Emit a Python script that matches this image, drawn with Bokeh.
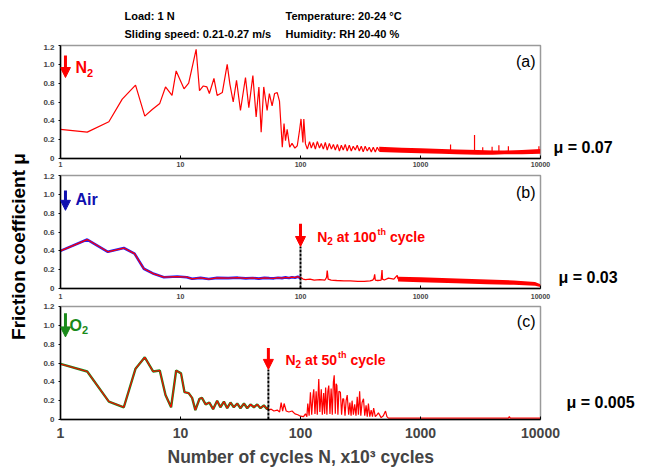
from math import pi
from bokeh.plotting import figure
from bokeh.layouts import column, row
from bokeh.models import (Range1d, FixedTicker, PrintfTickFormatter, CustomJSTickFormatter,
                          Label, Arrow, NormalHead, Title)
from bokeh.embed import file_html
from bokeh.resources import INLINE

FONT = "Liberation Sans"
RED = "#ff0000"
BLUE = "#2020ff"
NAVY = "#1010b0"
GREEN = "#1a8a1a"
FRAME = "#9a9a9a"

# ---------------- data ----------------
x_ticks = [1, 10, 100, 1000, 10000]
y_ticks = [0, 0.2, 0.4, 0.6, 0.8, 1.0, 1.2]

# (a) N2 atmosphere
a_x_early = [1, 1.67, 2.53, 3.27, 4.22, 5.04, 5.81, 6.72, 7.5, 8.5, 9.2, 10.7, 11.7, 13.5, 14.4,
             15.5, 16.6, 17.4, 19, 20.2, 22.3, 24.5, 25.8, 27.5, 29.3, 31.6, 34.8, 37.1, 40.1,
             42.7, 45, 47, 49.4, 52.7, 55, 58, 60.8, 64, 66.8, 70.5, 72.9, 75, 77.4, 81.3, 85,
             89.8, 94, 98.2, 101, 104.7, 106.6, 110]
a_y_early = [0.31, 0.28, 0.39, 0.63, 0.78, 0.45, 0.52, 0.585, 0.76, 0.67, 0.93, 0.74, 0.80, 1.16,
             0.72, 0.77, 0.76, 0.69, 0.85, 0.67, 0.70, 1.0, 0.79, 0.60, 0.83, 0.51, 0.86, 0.54,
             0.88, 0.44, 0.76, 0.28, 0.76, 0.51, 0.69, 0.56, 0.69, 0.70, 0.61, 0.12, 0.37, 0.19,
             0.31, 0.12, 0.16, 0.11, 0.135, 0.30, 0.42, 0.17, 0.42, 0.155]
a_x_zig = [114, 119, 123, 128, 133, 138, 144, 149, 155, 161, 167, 174, 181, 188, 195, 203, 211,
           219, 227, 236, 245, 255, 265, 275, 286, 297, 309, 321, 333, 346, 360, 374, 389, 404,
           420, 436, 453]
a_y_zig = [0.10, 0.18, 0.11, 0.17, 0.10, 0.18, 0.11, 0.16, 0.10, 0.17, 0.09, 0.16, 0.10, 0.15,
           0.09, 0.15, 0.08, 0.14, 0.09, 0.15, 0.08, 0.14, 0.08, 0.13, 0.09, 0.14, 0.08, 0.13,
           0.07, 0.13, 0.08, 0.12, 0.07, 0.12, 0.07, 0.12, 0.08]
a_band_x = [453, 700, 1000, 1500, 2000, 3000, 4000, 5000, 7000, 10000]
a_band_lo = [0.07, 0.06, 0.055, 0.05, 0.045, 0.04, 0.04, 0.045, 0.045, 0.05]
a_band_hi = [0.125, 0.115, 0.11, 0.10, 0.095, 0.09, 0.085, 0.085, 0.09, 0.10]
a_spike_x = [1780, 2820, 3300, 3950, 4500, 5400, 9700]
a_spike_base = [0.08, 0.08, 0.08, 0.08, 0.08, 0.08, 0.08]
a_spike_top = [0.15, 0.25, 0.12, 0.125, 0.14, 0.13, 0.13]

# (b) air, then N2 from the 100th cycle
b_air_x = [1, 1.67, 2.48, 3.37, 4.14, 4.95, 5.99, 7.27, 9.4, 11.3, 12.5, 14.7, 17.2, 20.2, 25,
           30, 35, 40, 45, 50, 55, 60, 65, 70, 75, 80, 85, 90, 95, 100]
b_air_y = [0.40, 0.52, 0.39, 0.43, 0.37, 0.21, 0.156, 0.12, 0.127, 0.12, 0.103, 0.113, 0.10,
           0.113, 0.11, 0.115, 0.108, 0.112, 0.105, 0.113, 0.11, 0.108, 0.115, 0.11, 0.118,
           0.112, 0.12, 0.115, 0.125, 0.11]
b_n2_x = [100, 105, 110, 120, 130, 145, 160, 165, 167, 170, 180, 200, 230, 260, 300, 340, 380,
          400, 410, 415, 420, 440, 470, 478, 482, 500, 540, 600, 640, 650]
b_n2_y = [0.12, 0.10, 0.095, 0.10, 0.09, 0.095, 0.09, 0.12, 0.19, 0.10, 0.09, 0.085, 0.08, 0.08,
          0.075, 0.075, 0.08, 0.09, 0.11, 0.15, 0.09, 0.085, 0.09, 0.195, 0.10, 0.09, 0.11,
          0.10, 0.14, 0.10]
b_band_x = [650, 1000, 2000, 3600, 6000, 9000, 10000]
b_band_lo = [0.075, 0.067, 0.055, 0.045, 0.04, 0.03, 0.015]
b_band_hi = [0.125, 0.12, 0.105, 0.095, 0.085, 0.07, 0.045]
b_switch_x = [100]
b_switch_y0 = [0]
b_switch_y1 = [0.446]

# (c) O2, then N2 from the 50th cycle
c_o2_x = [1, 1.67, 2.53, 3.37, 4.22, 5.04, 5.91, 6.72, 7.5, 8.35, 9.2, 10.1, 10.8, 11.7, 12.5,
          13.3, 14.4, 15.1, 16.2, 17.4, 18.7, 20.2, 21.5, 23, 24.5, 26.1, 27.8, 29.7, 31.6, 33.8,
          36, 38.3, 40.9, 43.6, 46.4, 49.5, 52.7, 54]
c_o2_y = [0.59, 0.51, 0.19, 0.13, 0.54, 0.66, 0.51, 0.52, 0.26, 0.13, 0.52, 0.49, 0.29, 0.28,
          0.23, 0.10, 0.22, 0.23, 0.16, 0.18, 0.11, 0.20, 0.13, 0.19, 0.12, 0.18, 0.13, 0.17,
          0.12, 0.17, 0.12, 0.16, 0.13, 0.16, 0.12, 0.15, 0.11, 0.13]
c_n2_x = [54, 57, 60, 64, 67, 69, 71, 73, 76, 80,
          85, 90, 95, 100, 106, 110, 113, 115, 118, 121,
          124, 127, 129, 132, 135, 138, 142, 145, 149, 152,
          156, 159, 162, 166, 169, 172, 176, 180, 184, 188,
          191, 195, 198, 201, 205, 209, 215, 220, 225, 229,
          235, 240, 245, 252, 258, 264, 269, 276, 283, 290,
          297, 304, 311, 318, 326, 335, 343, 352, 360, 368,
          378, 388, 398, 407, 420, 433, 446, 470, 490, 511,
          525, 540, 700, 1000, 3000, 5400, 5500, 5600, 10000]
c_n2_y = [0.10, 0.11, 0.09, 0.10, 0.08, 0.18, 0.09, 0.17, 0.09, 0.08,
          0.09, 0.06, 0.05, 0.035, 0.03, 0.06, 0.03, 0.17, 0.04, 0.29,
          0.05, 0.25, 0.32, 0.06, 0.30, 0.05, 0.43, 0.08, 0.32, 0.05,
          0.28, 0.06, 0.34, 0.05, 0.30, 0.36, 0.06, 0.33, 0.05, 0.40,
          0.47, 0.06, 0.38, 0.36, 0.05, 0.30, 0.29, 0.05, 0.22, 0.22,
          0.04, 0.20, 0.26, 0.05, 0.18, 0.04, 0.20, 0.05, 0.16, 0.04,
          0.24, 0.05, 0.30, 0.04, 0.18, 0.22, 0.04, 0.15, 0.03, 0.17,
          0.03, 0.10, 0.03, 0.12, 0.03, 0.05, 0.07, 0.02, 0.04, 0.09,
          0.03, 0.015, 0.015, 0.015, 0.015, 0.015, 0.03, 0.015, 0.015]
c_switch_x = [54]
c_switch_y0 = [0]
c_switch_y1 = [0.532]

titles_left = ["Load: 1 N", "Sliding speed: 0.21-0.27 m/s"]
titles_right = ["Temperature: 20-24 °C", "Humidity: RH 20-40 %"]
mu_texts = ["μ = 0.07", "μ = 0.03", "μ = 0.005"]


# ---------------- helpers ----------------
def make_panel(width, height, top, bottom, right, xlab_size, xlab_standoff):
    p = figure(width=width, height=height, x_axis_type="log",
               x_range=Range1d(x_ticks[0], x_ticks[-1]),
               y_range=Range1d(y_ticks[0], y_ticks[-1]),
               toolbar_location=None, output_backend="svg",
               min_border_left=26, min_border_right=right,
               min_border_top=top, min_border_bottom=bottom)
    p.grid.visible = False
    p.outline_line_color = FRAME
    p.outline_line_width = 1.5
    xa = p.xaxis[0]
    xa.ticker = FixedTicker(ticks=x_ticks)
    xa.formatter = PrintfTickFormatter(format="%d")
    xa.major_label_text_font = FONT
    xa.major_label_text_font_style = "bold"
    xa.major_label_text_font_size = xlab_size
    xa.major_label_standoff = xlab_standoff
    xa.major_tick_in = 3
    xa.major_tick_out = 0
    xa.minor_tick_line_color = None
    xa.axis_line_color = "black"
    xa.axis_line_width = 1.5
    ya = p.yaxis[0]
    ya.ticker = FixedTicker(ticks=y_ticks)
    ya.formatter = CustomJSTickFormatter(code="return tick == 0 ? '0' : tick.toFixed(1);")
    ya.major_label_text_font = FONT
    ya.major_label_text_font_style = "bold"
    ya.major_label_text_font_size = "8px"
    ya.major_label_standoff = 4
    ya.major_tick_in = 0
    ya.major_tick_out = 2
    ya.minor_tick_line_color = None
    ya.axis_line_color = "black"
    ya.axis_line_width = 1.5
    return p


def text_fig(w, h, y_end=None):
    f = figure(width=w, height=h, x_range=Range1d(0, w),
               y_range=Range1d(0, h if y_end is None else y_end),
               toolbar_location=None, output_backend="svg",
               x_axis_location=None, y_axis_location=None, min_border=0)
    f.grid.visible = False
    f.outline_line_color = None
    return f


def lab(p, x, y, text, size, color="black", style="bold", align="left",
        baseline="middle", xo=0, yo=0, angle=0):
    p.add_layout(Label(x=x, y=y, text=text, text_font=FONT, text_font_size=size,
                       text_font_style=style, text_color=color, text_align=align,
                       text_baseline=baseline, x_offset=xo, y_offset=yo, angle=angle))


def arrow(p, x, y0, y1, color):
    p.add_layout(Arrow(end=NormalHead(size=10, fill_color=color, line_color=color),
                       x_start=x, y_start=y0, x_end=x, y_end=y1,
                       line_color=color, line_width=3))


def gas_sub(p, x, y, letter, color, letter_w):
    lab(p, x, y, letter, "16px", color)
    lab(p, x, y, "2", "11px", color, xo=letter_w, yo=-5)


def switch_note(p, x, y, number, num_w):
    lab(p, x, y, "N", "14px", RED, baseline="alphabetic")
    lab(p, x, y, "2", "10px", RED, baseline="alphabetic", xo=10.1, yo=-4)
    lab(p, x, y, "at " + number, "14px", RED, baseline="alphabetic", xo=19.6)
    lab(p, x, y, "th", "9px", RED, baseline="alphabetic", xo=19.6 + num_w + 1, yo=5)
    lab(p, x, y, "cycle", "14px", RED, baseline="alphabetic", xo=19.6 + num_w + 13.4)


# ---------------- header ----------------
tf = text_fig(644, 44)
lab(tf, 124, 29, titles_left[0], "11px")
lab(tf, 124, 11, titles_left[1], "11px")
lab(tf, 285, 29, titles_right[0], "11px")
lab(tf, 285, 11, titles_right[1], "11px")

# ---------------- panel (a) ----------------
pa = make_panel(518, 129, 1, 15, 12, "7px", 3)
pa.varea(x=a_band_x, y1=a_band_lo, y2=a_band_hi, fill_color=RED)
pa.line(a_x_early + a_x_zig, a_y_early + a_y_zig, line_color=RED, line_width=1.2)
pa.segment(x0=a_spike_x, y0=a_spike_base, x1=a_spike_x, y1=a_spike_top,
           line_color=RED, line_width=1.2)
lab(pa, 9085, 1.03, "(a)", "16px", style="normal", align="right")
arrow(pa, 1.1, 1.094, 0.86, RED)
gas_sub(pa, 1.334, 0.963, "N", RED, 11.6)
ra = text_fig(92, 129, y_ticks[-1])
lab(ra, 1, 0.117, mu_texts[0], "16px")

# ---------------- panel (b) ----------------
pb = make_panel(518, 129, 2, 14, 12, "7px", 5)
pb.line(b_air_x, b_air_y, line_color=BLUE, line_width=2.6)
pb.line(b_air_x, b_air_y, line_color=RED, line_width=1.3)
pb.varea(x=b_band_x, y1=b_band_lo, y2=b_band_hi, fill_color=RED)
pb.line(b_n2_x, b_n2_y, line_color=RED, line_width=1.3)
pb.segment(x0=b_switch_x, y0=b_switch_y0, x1=b_switch_x, y1=b_switch_y1,
           line_color="black", line_width=2, line_dash="3 1")
lab(pb, 9085, 1.02, "(b)", "16px", style="normal", align="right")
arrow(pb, 1.1, 1.04, 0.83, NAVY)
lab(pb, 1.334, 0.95, "Air", "16px", NAVY)
arrow(pb, 100, 0.687, 0.446, RED)
switch_note(pb, 137.8, 0.552, "100", 39.7)
rb = text_fig(92, 129, y_ticks[-1])
lab(rb, 6, 0.117, mu_texts[1], "16px")

# ---------------- panel (c) ----------------
pc = make_panel(530, 168, 4, 49, 24, "14px", 8)
pc.line(c_o2_x, c_o2_y, line_color=GREEN, line_width=2.4)
pc.line(c_o2_x, c_o2_y, line_color=RED, line_width=1.1)
pc.line(c_n2_x, c_n2_y, line_color=RED, line_width=1.2)
pc.segment(x0=c_switch_x, y0=c_switch_y0, x1=c_switch_x, y1=c_switch_y1,
           line_color="black", line_width=2, line_dash="3 1")
pc.add_layout(Title(text="Number of cycles N, x10³ cycles", align="left", offset=107,
                    text_font=FONT, text_font_size="17.5px", text_font_style="bold",
                    standoff=8), "below")
lab(pc, 9085, 1.036, "(c)", "16px", style="normal", align="right")
arrow(pc, 1.1, 1.127, 0.877, GREEN)
gas_sub(pc, 1.19, 1.0, "O", GREEN, 12.4)
arrow(pc, 54, 0.759, 0.532, RED)
switch_note(pc, 75, 0.63, "50", 31.9)
rc = text_fig(80, 168, y_ticks[-1])
lab(rc, 2, 0.177, mu_texts[2], "16px")

# ---------------- shared y label ----------------
lf = text_fig(34, 426)
lab(lf, 18, 224, "Friction coefficient μ", "19px", align="center", angle=pi / 2)

layout = column(tf, row(lf, column(row(pa, ra), row(pb, rb), row(pc, rc))))
open("out.html", "w").write(file_html(layout, INLINE))
